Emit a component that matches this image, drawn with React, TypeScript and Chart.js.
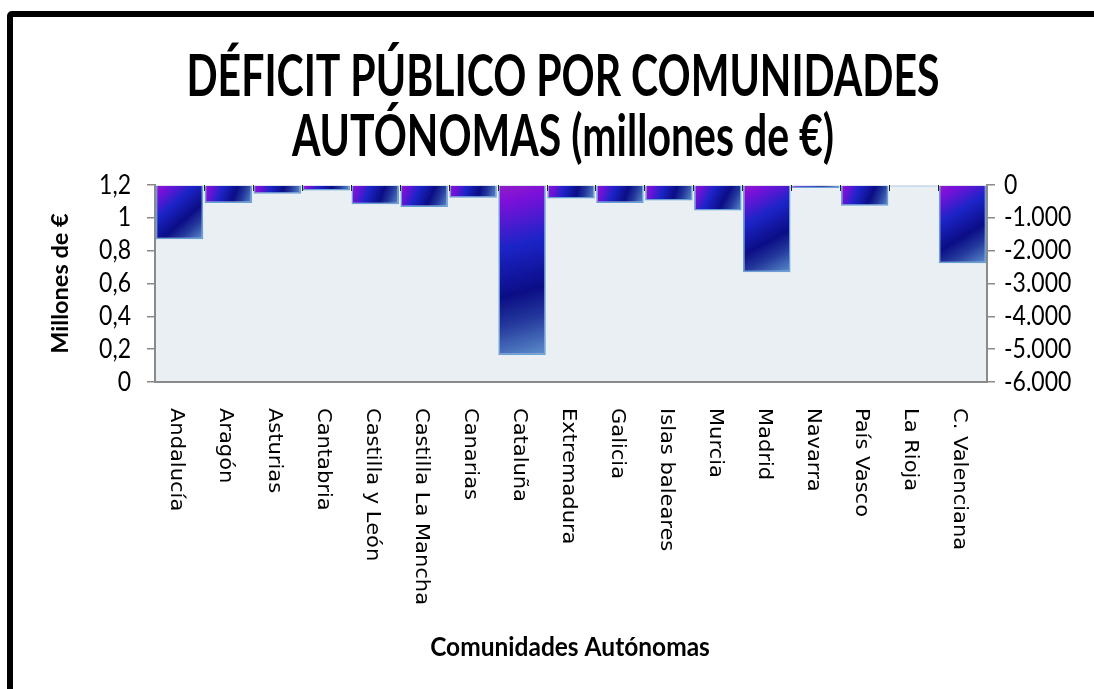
import React, { useEffect, useRef } from 'react';
import { Chart, registerables } from 'chart.js';

Chart.register(...registerables);

// ---- data ----
const categories = [
  'Andalucía', 'Aragón', 'Asturias', 'Cantabria', 'Castilla y León', 'Castilla La Mancha',
  'Canarias', 'Cataluña', 'Extremadura', 'Galicia', 'Islas baleares', 'Murcia', 'Madrid',
  'Navarra', 'País Vasco', 'La Rioja', 'C. Valenciana',
];
const deficit = [-1650, -550, -265, -165, -590, -670, -390, -5175, -410, -550, -470, -775, -2655, -90, -630, -45, -2380];
const titleLines = ['DÉFICIT PÚBLICO POR COMUNIDADES', 'AUTÓNOMAS (millones de €)'];
const leftAxisTitle = 'Millones de €';
const xAxisTitle = 'Comunidades Autónomas';
const leftTicks = { min: 0, max: 1.2, step: 0.2 };
const rightTicks = { min: -6000, max: 0, step: 1000 };

// ---- styles ----
const W = 1094;
const H = 689;
const AXIS_COLOR = '#8a8a8a';
const PLOT_BG = '#e9eff3';
const CAL = 'Lato, "Open Sans", sans-serif';

function fmtLeft(v: number) {
  const r = Math.round(v * 10) / 10;
  return String(r).replace('.', ',');
}
function fmtRight(v: number) {
  const r = Math.round(v);
  const s = Math.abs(r).toString().replace(/\B(?=(\d{3})+(?!\d))/g, '.');
  return (r < 0 ? '-' : '') + s;
}

function drawText(
  ctx: CanvasRenderingContext2D, text: string, x: number, y: number, font: string,
  align: CanvasTextAlign, baseline: CanvasTextBaseline, angle = 0, sy = 1.15, color = '#000'
) {
  ctx.save();
  ctx.translate(x, y);
  ctx.scale(1, sy);
  ctx.rotate(angle);
  ctx.font = font;
  ctx.fillStyle = color;
  ctx.textAlign = align;
  ctx.textBaseline = baseline;
  ctx.fillText(text, 0, 0);
  ctx.restore();
}

const decorPlugin = {
  id: 'decor',
  beforeDraw(chart: any) {
    const { ctx, chartArea } = chart;
    ctx.save();
    ctx.fillStyle = PLOT_BG;
    ctx.fillRect(chartArea.left, chartArea.top, chartArea.right - chartArea.left, chartArea.bottom - chartArea.top);
    ctx.restore();
  },
  beforeDatasetsDraw(chart: any) {
    const { ctx } = chart;
    const meta = chart.getDatasetMeta(0);
    meta.data.forEach((el: any) => {
      const p = el.getProps(['x', 'y', 'base', 'width'], true);
      const top = Math.min(p.y, p.base);
      const bot = Math.max(p.y, p.base);
      const g = ctx.createLinearGradient(p.x - p.width / 2, top, p.x + p.width / 2, bot);
      g.addColorStop(0, '#921dc6');
      g.addColorStop(0.1, '#7c10da');
      g.addColorStop(0.35, '#1c24c8');
      g.addColorStop(0.62, '#0b0d86');
      g.addColorStop(0.78, '#24399d');
      g.addColorStop(1, '#5d8fcc');
      el.options.backgroundColor = g;
    });
  },
  afterDatasetsDraw(chart: any) {
    // small category-axis tick marks along the zero line (top)
    const { ctx, chartArea, scales } = chart;
    const xs = scales.x;
    ctx.save();
    ctx.strokeStyle = '#222';
    ctx.lineWidth = 1;
    for (let i = 1; i < categories.length; i++) {
      const bx = Math.round((xs.getPixelForValue(i - 1) + xs.getPixelForValue(i)) / 2) + 0.5;
      ctx.beginPath();
      ctx.moveTo(bx, chartArea.top);
      ctx.lineTo(bx, chartArea.top + 6);
      ctx.stroke();
    }
    ctx.restore();
  },
  afterDraw(chart: any) {
    const { ctx, chartArea, scales } = chart;
    // title
    drawText(ctx, titleLines[0], 563, 96, `bold 41px ${CAL}`, 'center', 'alphabetic', 0, 1.42);
    drawText(ctx, titleLines[1], 563, 156, `bold 41px ${CAL}`, 'center', 'alphabetic', 0, 1.42);
    // left tick labels
    const ys = scales.y;
    ys.ticks.forEach((t: any, i: number) => {
      drawText(ctx, fmtLeft(t.value), ys.right - 24, ys.getPixelForTick(i), `23px ${CAL}`, 'right', 'middle');
    });
    const y2 = scales.y2;
    y2.ticks.forEach((t: any, i: number) => {
      drawText(ctx, fmtRight(t.value), y2.left + 17, y2.getPixelForTick(i), `23px ${CAL}`, 'left', 'middle');
    });
    // left axis title
    drawText(ctx, leftAxisTitle, 61, (chartArea.top + chartArea.bottom) / 2, `bold 22px ${CAL}`, 'center', 'middle', -Math.PI / 2, 1.07);
    // x category labels
    const xs = scales.x;
    categories.forEach((lab, i) => {
      drawText(ctx, lab, xs.getPixelForValue(i) - 3, chartArea.bottom + 26, '20px "DejaVu Sans"', 'left', 'middle', Math.PI / 2, 1.05);
    });
    // x title
    drawText(ctx, xAxisTitle, 570, 647, `bold 24.5px ${CAL}`, 'center', 'middle', 0, 1.08);
  },
};

export default function App() {
  const ref = useRef<HTMLCanvasElement | null>(null);
  useEffect(() => {
    if (!ref.current) return;
    const chart = new Chart(ref.current, {
      type: 'bar',
      data: {
        labels: categories,
        datasets: [
          {
            data: deficit,
            yAxisID: 'y2',
            backgroundColor: () => '#1c24c8',
            borderColor: '#6a9fd6',
            borderWidth: 1.5,
            barPercentage: 0.97,
            categoryPercentage: 1,
          },
        ],
      },
      options: {
        responsive: false,
        animation: false,
        devicePixelRatio: 1,
        layout: { padding: { left: 0, right: 0, top: 185, bottom: H - 382 } },
        plugins: { legend: { display: false }, title: { display: false }, tooltip: { enabled: false } },
        scales: {
          x: {
            offset: true,
            grid: { display: false, drawTicks: false },
            border: { display: true, color: AXIS_COLOR, width: 2 },
            ticks: { display: false },
            afterFit: (s: any) => { s.height = 0; },
          },
          y: {
            position: 'left',
            min: leftTicks.min,
            max: leftTicks.max,
            ticks: { stepSize: leftTicks.step, display: false },
            grid: { drawOnChartArea: false, drawTicks: true, tickLength: 8, color: AXIS_COLOR, lineWidth: 1.5 },
            border: { color: AXIS_COLOR, width: 2 },
            afterFit: (s: any) => { s.width = 155; },
          },
          y2: {
            position: 'right',
            min: rightTicks.min,
            max: rightTicks.max,
            ticks: { stepSize: rightTicks.step, display: false },
            grid: { drawOnChartArea: false, drawTicks: true, tickLength: 8, color: AXIS_COLOR, lineWidth: 1.5 },
            border: { color: AXIS_COLOR, width: 2 },
            afterFit: (s: any) => { s.width = W - 987; },
          },
        },
      },
      plugins: [decorPlugin],
    } as any);
    return () => chart.destroy();
  }, []);

  return (
    <>
      <div
        style={{
          position: 'fixed', left: 7, top: 11, width: 1300, height: 900,
          border: '6px solid #000', borderRadius: 5, background: '#fff', boxSizing: 'border-box',
        }}
      />
      <canvas
        ref={ref}
        width={W}
        height={H}
        style={{ position: 'fixed', left: 0, top: 0, width: W, height: H }}
      />
    </>
  );
}
